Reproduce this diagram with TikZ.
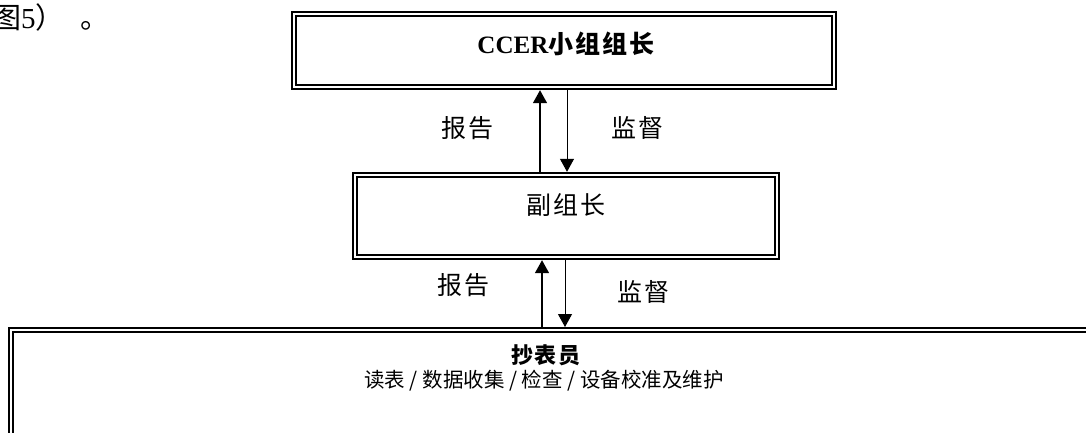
\documentclass[tikz,border=0pt]{standalone}
\usepackage{fontspec}
\setmainfont{Liberation Serif}
\newfontfamily\cjk[LetterSpace=8]{Noto Sans CJK SC}
\newfontfamily\cjkplain{Noto Sans CJK SC}
\usetikzlibrary{arrows.meta}
\begin{document}
\begin{tikzpicture}[x=1pt,y=-1pt,
  dbox/.style={draw, line width=1.9pt, double, double distance=2.6pt, outer sep=3.2pt, inner sep=0pt},
  lbl/.style={inner sep=0pt, font=\fontsize{25}{25}\selectfont\cjk},
  uparr/.style={line width=1.5pt, -{Triangle[length=13pt,width=14pt]}},
  downarr/.style={line width=1pt, -{Triangle[length=13pt,width=14pt]}}]
\useasboundingbox (0,0) rectangle (1086,432);
% fragment of running text
\node[anchor=base west, inner sep=0pt, font=\fontsize{29}{29}\selectfont] (frag) at (-8,28) {{\cjkplain 图}5{\cjkplain ）\hspace{16pt}。}};
% boxes
\node[dbox, minimum width=540pt, minimum height=73pt] (lead) at (564,50.5) {};
\node[dbox, minimum width=422pt, minimum height=82pt] (deputy) at (566,216) {};
\node[dbox, minimum width=1100pt, minimum height=130pt, anchor=north west, outer sep=0pt] (clerk) at (11,330) {};
% box texts
\node[inner sep=0pt, font=\fontsize{25}{25}\selectfont] (leadtxt) at (566,44) {\textbf{CCER}{\cjk\bfseries 小组组长}};
\node[lbl] (deputytxt) at (566,205) {副组长};
\node[inner sep=0pt, font=\fontsize{22}{22}\selectfont\cjk\bfseries] (clerktxt) at (546,355) {抄表员};
\node[inner sep=0pt, font=\fontsize{20.5}{20.5}\selectfont\cjkplain] (clerkjobs) at (544,381) {读表 / 数据收集 / 检查 / 设备校准及维护};
% arrow labels
\node[lbl] (rep1) at (467,128) {报告};
\node[lbl] (sup1) at (637,128) {监督};
\node[lbl] (rep2) at (463,285) {报告};
\node[lbl] (sup2) at (643,292) {监督};
% arrows
\coordinate (u1) at (540,0);
\coordinate (d1) at (567,0);
\coordinate (u2) at (542,0);
\coordinate (d2) at (565,0);
\draw[uparr] (deputy.north -| u1) -- (lead.south -| u1);
\draw[downarr] (lead.south -| d1) -- (deputy.north -| d1);
\draw[uparr] ([yshift=3pt]clerk.north -| u2) -- (deputy.south -| u2);
\draw[downarr] (deputy.south -| d2) -- ([yshift=3pt]clerk.north -| d2);
\end{tikzpicture}
\end{document}
